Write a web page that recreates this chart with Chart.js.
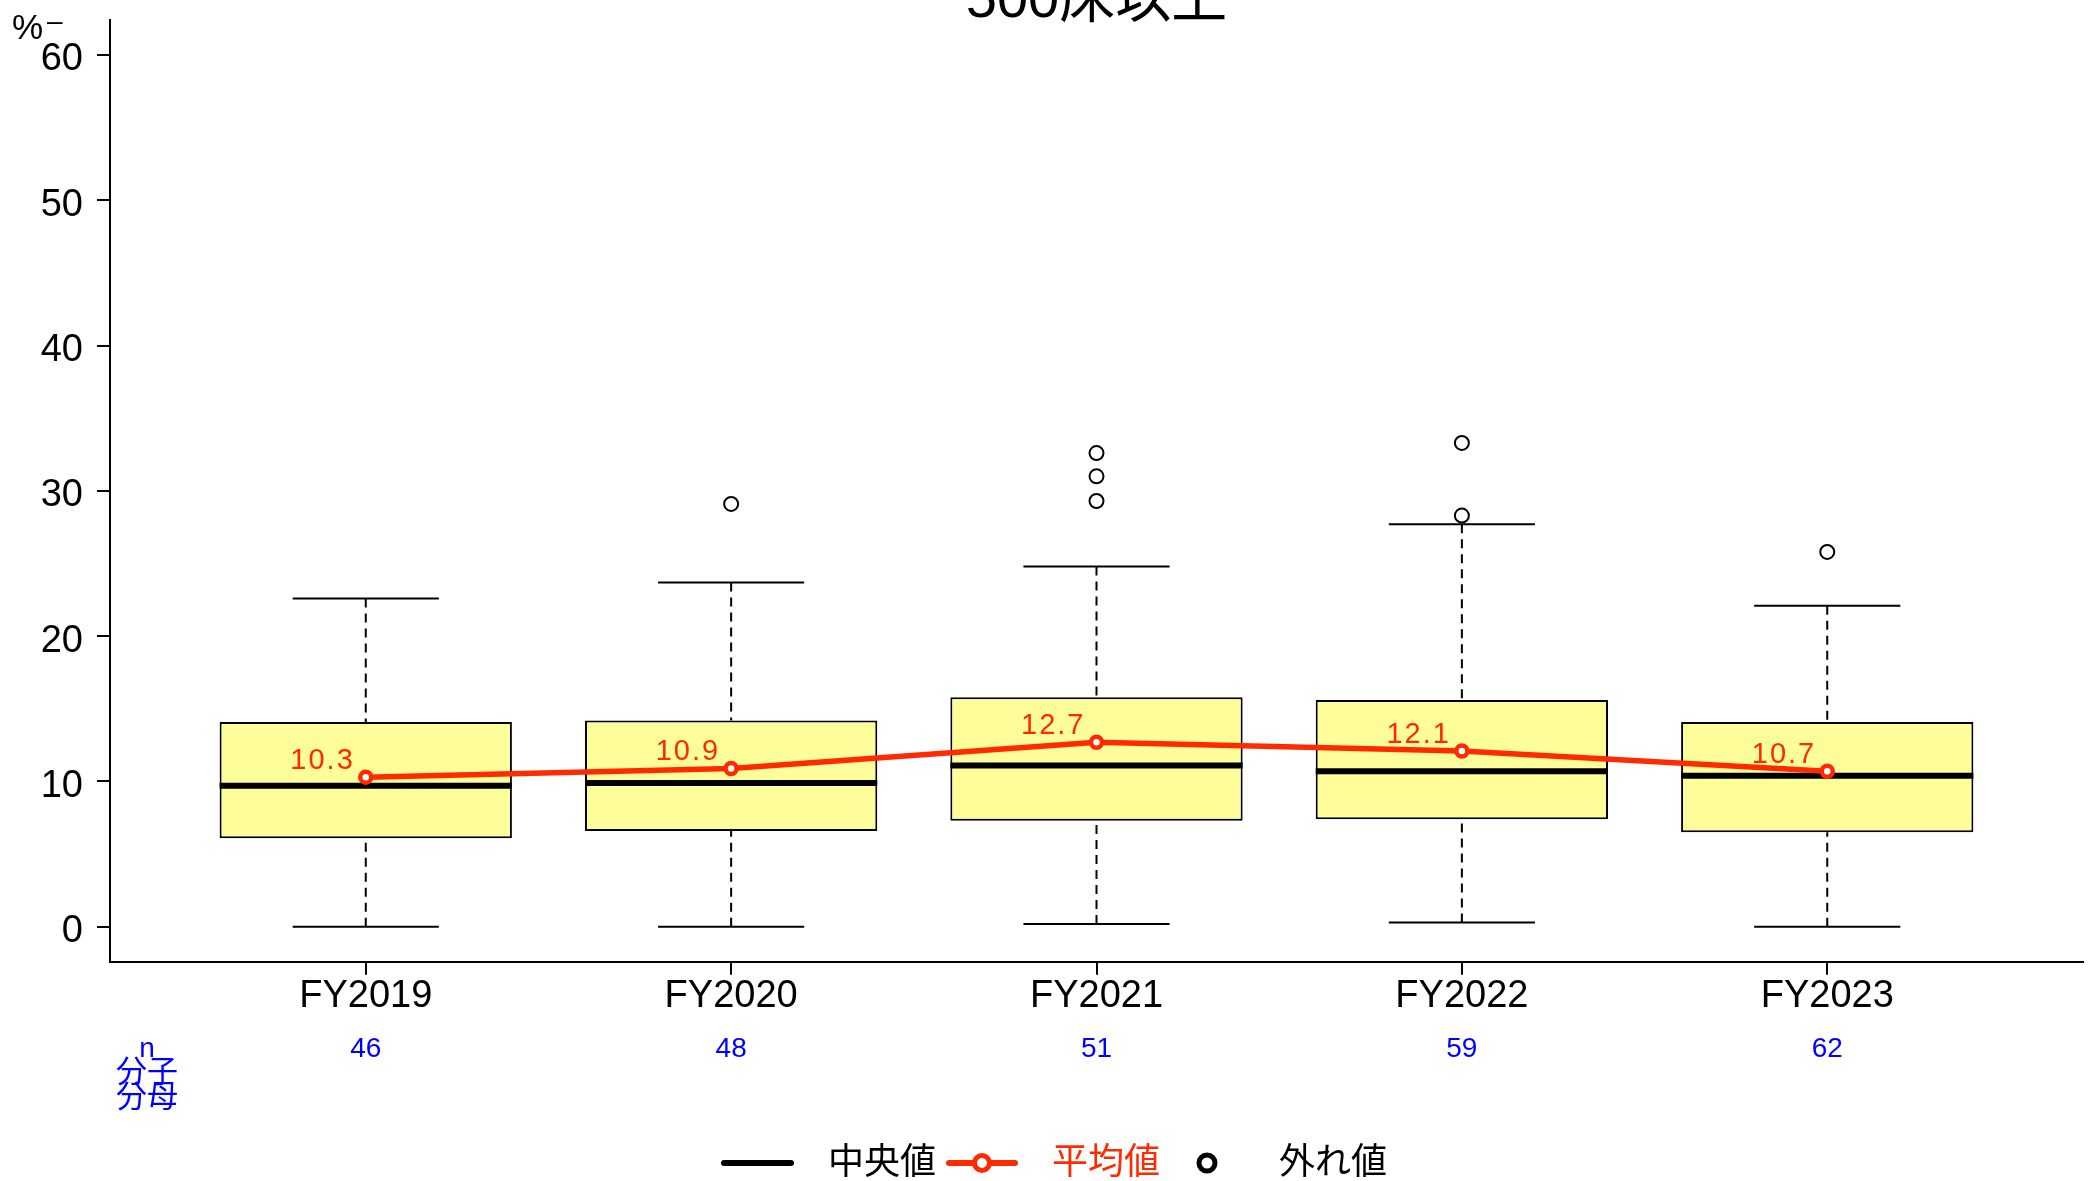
<!DOCTYPE html>
<html lang="ja">
<head>
<meta charset="utf-8">
<title>500床以上</title>
<script src="https://cdn.jsdelivr.net/npm/chart.js@4.4.1/dist/chart.umd.min.js"></script>
<style>
  html, body { margin: 0; padding: 0; background: #fff; }
  #wrap { width: 2093px; height: 1181px; }
</style>
</head>
<body>
<div id="wrap"><canvas id="chart" width="2093" height="1181"></canvas></div>
<script>
// values
const categories = ["FY2019", "FY2020", "FY2021", "FY2022", "FY2023"]
const nCounts = [46, 48, 51, 59, 62]
const whiskerLow = [0.0, 0.0, 0.2, 0.3, 0.0]
const q1 = [6.1, 6.6, 7.3, 7.4, 6.5]
const medians = [9.7, 9.9, 11.1, 10.7, 10.4]
const q3 = [14.1, 14.2, 15.8, 15.6, 14.1]
const whiskerHigh = [22.6, 23.7, 24.8, 27.7, 22.1]
const means = [10.3, 10.9, 12.7, 12.1, 10.7]
const outliers = [[], [29.1], [29.3, 31.0, 32.6], [28.3, 33.3], [25.8]]
const yTicks = [0, 10, 20, 30, 40, 50, 60]

const RED = "#ff2a00"
const YELLOW = "#fdfd99"
const BLUE = "#0000ff"
const FONT = "'Liberation Sans', 'Noto Sans CJK JP', Arial, sans-serif"

const outlierPoints = []
outliers.forEach((list, i) => {
  list.forEach((v) => outlierPoints.push({x: i + 1, y: v}))
})

// whiskers, caps and medians, drawn right after the boxes
const boxExtras = {
  id: "boxExtras",
  afterDatasetDraw(chart, args) {
    if (args.index !== 0) return
    const {ctx} = chart
    const x = chart.scales.x
    const y = chart.scales.y
    ctx.save()
    ctx.strokeStyle = "#000"
    categories.forEach((c, i) => {
      const cx = x.getPixelForValue(i + 1)
      const halfBox = (x.getPixelForValue(i + 1.4) - x.getPixelForValue(i + 0.6)) / 2
      const halfCap = halfBox / 2
      const yHi = y.getPixelForValue(whiskerHigh[i])
      const yLo = y.getPixelForValue(whiskerLow[i])

      ctx.lineWidth = 2
      ctx.setLineDash([9, 6])
      ctx.beginPath()
      ctx.moveTo(cx, yHi)
      ctx.lineTo(cx, y.getPixelForValue(q3[i]))
      ctx.moveTo(cx, yLo)
      ctx.lineTo(cx, y.getPixelForValue(q1[i]))
      ctx.stroke()
      ctx.setLineDash([])

      ctx.beginPath()
      ctx.moveTo(cx - halfCap, yHi)
      ctx.lineTo(cx + halfCap, yHi)
      ctx.moveTo(cx - halfCap, yLo)
      ctx.lineTo(cx + halfCap, yLo)
      ctx.stroke()

      const yMed = y.getPixelForValue(medians[i])
      ctx.lineWidth = 6
      ctx.beginPath()
      ctx.moveTo(cx - halfBox, yMed)
      ctx.lineTo(cx + halfBox, yMed)
      ctx.stroke()
    })
    ctx.restore()
  }
}

// title, unit, mean labels, n row and legend
const extras = {
  id: "extras",
  afterDraw(chart) {
    const {ctx, chartArea} = chart
    const x = chart.scales.x
    const meanMeta = chart.getDatasetMeta(2)
    ctx.save()

    // title (partly cut off at the top in the original)
    ctx.fillStyle = "#000"
    ctx.font = "56px " + FONT
    ctx.textAlign = "center"
    ctx.textBaseline = "alphabetic"
    ctx.fillText("500床以上", (chartArea.left + chartArea.right) / 2, 17)

    ctx.font = "35px " + FONT
    ctx.textAlign = "left"
    ctx.fillText("%", 12, 39)
    ctx.font = "28px " + FONT
    ctx.fillText("–", 47, 30)

    // mean labels
    ctx.fillStyle = RED
    ctx.font = "29px " + FONT
    ctx.letterSpacing = "2px"
    ctx.textAlign = "right"
    meanMeta.data.forEach((pt, i) => {
      ctx.fillText(means[i].toFixed(1), pt.x - 11, pt.y - 8)
    })
    ctx.letterSpacing = "0px"

    // n row
    ctx.fillStyle = BLUE
    ctx.textAlign = "center"
    ctx.textBaseline = "middle"
    ctx.font = "28px " + FONT
    nCounts.forEach((n, i) => {
      ctx.fillText(String(n), x.getPixelForValue(i + 1), 1049)
    })
    ctx.textBaseline = "alphabetic"
    ctx.fillText("n", 147, 1057)
    ctx.textBaseline = "middle"
    ctx.font = "31px " + FONT
    ctx.fillText("分子", 147, 1073)
    ctx.fillText("分母", 147, 1098)

    // legend
    const ly = 1163
    ctx.strokeStyle = "#000"
    ctx.lineWidth = 6
    ctx.lineCap = "round"
    ctx.beginPath()
    ctx.moveTo(724, ly)
    ctx.lineTo(791, ly)
    ctx.stroke()

    ctx.strokeStyle = RED
    ctx.beginPath()
    ctx.moveTo(949, ly)
    ctx.lineTo(1015, ly)
    ctx.stroke()
    ctx.lineCap = "butt"
    ctx.fillStyle = "#fff"
    ctx.lineWidth = 5
    ctx.beginPath()
    ctx.arc(982, ly, 7.5, 0, Math.PI * 2)
    ctx.fill()
    ctx.stroke()

    ctx.strokeStyle = "#000"
    ctx.lineWidth = 5
    ctx.beginPath()
    ctx.arc(1207, ly, 8, 0, Math.PI * 2)
    ctx.fill()
    ctx.stroke()

    ctx.font = "36px " + FONT
    ctx.textAlign = "left"
    ctx.textBaseline = "middle"
    ctx.fillStyle = "#000"
    ctx.fillText("中央値", 828, ly + 1)
    ctx.fillStyle = RED
    ctx.fillText("平均値", 1052, ly + 1)
    ctx.fillStyle = "#000"
    ctx.fillText("外れ値", 1279, ly + 1)

    ctx.restore()
  }
}

new Chart(document.getElementById("chart"), {
  type: "bar",
  data: {
    datasets: [
      {
        type: "bar",
        label: "box",
        data: categories.map((c, i) => ({x: i + 1, y: [q1[i], q3[i]]})),
        backgroundColor: YELLOW,
        borderColor: "#000",
        borderWidth: 2,
        borderSkipped: false,
        categoryPercentage: 1,
        barPercentage: 0.8,
        order: 3,
      },
      {
        type: "line",
        label: "外れ値",
        data: outlierPoints,
        showLine: false,
        pointRadius: 7,
        pointBorderWidth: 2,
        pointBorderColor: "#000",
        pointBackgroundColor: "#fff",
        order: 2,
      },
      {
        type: "line",
        label: "平均値",
        data: means.map((v, i) => ({x: i + 1, y: v})),
        borderColor: RED,
        borderWidth: 5.5,
        tension: 0,
        pointRadius: 5.5,
        pointBorderWidth: 4.5,
        pointBorderColor: RED,
        pointBackgroundColor: "#fff",
        order: 1,
      },
    ],
  },
  options: {
    responsive: false,
    animation: false,
    devicePixelRatio: 1,
    events: [],
    layout: {padding: {top: 20, right: 10, left: 0, bottom: 0}},
    plugins: {
      legend: {display: false},
      tooltip: {enabled: false},
      title: {display: false},
    },
    scales: {
      x: {
        type: "linear",
        min: 0.3,
        max: 5.7,
        offset: false,
        afterBuildTicks: (s) => {
          s.ticks = categories.map((c, i) => ({value: i + 1}))
        },
        afterFit: (s) => {
          s.height = 219.3
          s.paddingLeft = 0
          s.paddingRight = 0
        },
        ticks: {
          callback: (v) => categories[v - 1],
          color: "#000",
          font: {family: FONT, size: 38},
          padding: -1,
          maxRotation: 0,
          autoSkip: false,
        },
        grid: {drawOnChartArea: false, offset: false, color: "#000", lineWidth: 2, tickLength: 13},
        border: {color: "#000", width: 2},
      },
      y: {
        min: -2.4,
        max: 62.4,
        afterBuildTicks: (s) => {
          s.ticks = yTicks.map((v) => ({value: v}))
        },
        afterFit: (s) => {
          s.width = 110
          s.paddingTop = 0
          s.paddingBottom = 0
        },
        ticks: {
          color: "#000",
          font: {family: FONT, size: 38},
          padding: 14,
          labelOffset: 5,
        },
        grid: {drawOnChartArea: false, color: "#000", lineWidth: 2, tickLength: 13},
        border: {color: "#000", width: 2},
      },
    },
  },
  plugins: [boxExtras, extras],
})
</script>
</body>
</html>
